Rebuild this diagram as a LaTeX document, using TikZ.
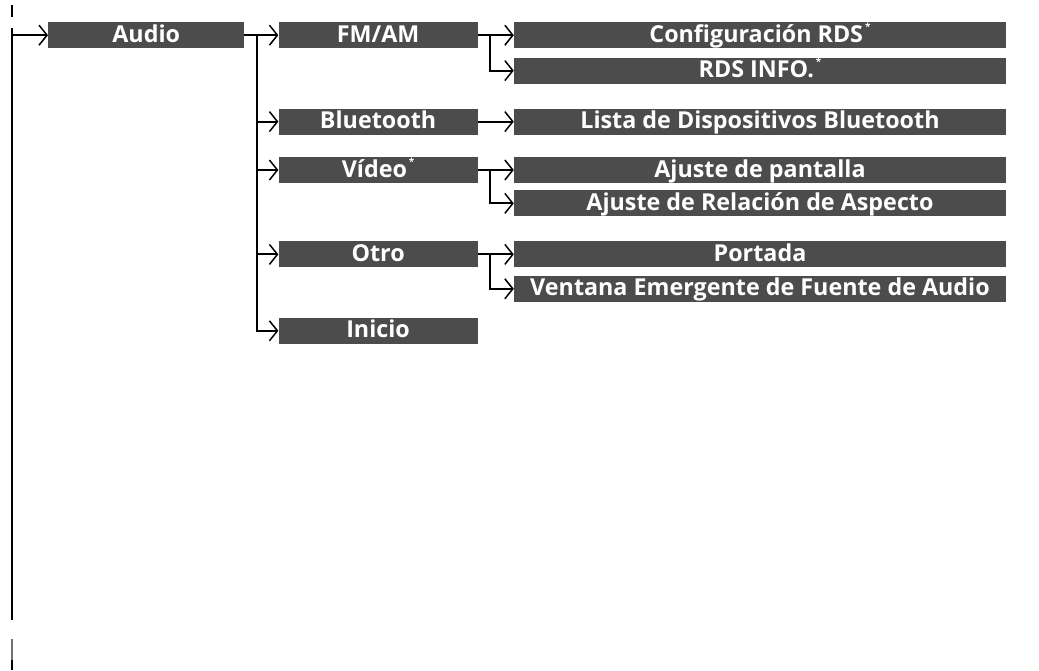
\documentclass[tikz,border=0pt]{standalone}
\usepackage{fontspec}
\setmainfont{Open Sans}
\usetikzlibrary{positioning, arrows.meta, calc}

\begin{document}
\begin{tikzpicture}[
  x=1pt, y=-1pt,
  font=\fontsize{23.3}{27}\selectfont\bfseries,
  itm/.style={fill=black!70, text=white, inner sep=0pt, minimum height=26pt,
              text height=17pt, text depth=3pt, anchor=north west},
  lvone/.style={itm, minimum width=196pt},
  lvtwo/.style={itm, minimum width=199pt},
  lvthree/.style={itm, minimum width=492pt},
  conn/.style={line width=2pt, draw=black},
  barr/.style={conn, -{Straight Barb[length=8pt,width=20pt,line width=1.5pt]}}
]
\newcommand{\smstar}{\kern2pt\raisebox{0.5em}{\fontsize{10}{10}\selectfont *}}
\useasboundingbox (0,0) rectangle (1039,670);
% menu boxes
\node[lvone] (audio) at (48,22) {Audio};
\node[lvtwo, right=34pt of audio] (fmam) {FM/AM};
\node[lvthree, right=36pt of fmam] (rdscfg) {Configuración RDS\smstar};
\node[lvthree, below=9pt of rdscfg] (rdsinfo) {RDS INFO.\smstar};
\node[lvtwo, below=60pt of fmam] (bt) {Bluetooth};
\node[lvthree, right=36pt of bt] (lista) {Lista de Dispositivos Bluetooth};
\node[lvtwo, below=22pt of bt] (video) {Vídeo\smstar};
\node[lvthree, right=36pt of video] (pant) {Ajuste de pantalla};
\node[lvthree, below=7pt of pant] (relac) {Ajuste de Relación de Aspecto};
\node[lvtwo, below=58pt of video] (otro) {Otro};
\node[lvthree, right=36pt of otro] (port) {Portada};
\node[lvthree, below=8pt of port] (vent) {Ventana Emergente de Fuente de Audio};
\node[lvtwo, below=50pt of otro] (inicio) {Inicio};
% left rail
\coordinate (rtop) at (12,28);
\coordinate (rbot) at (12,620);
\coordinate (tka) at (12,5);
\coordinate (tkb) at (12,17);
\coordinate (cuta) at (12,639);
\coordinate (cutb) at (12,660);
\coordinate (cutc) at (12,670);
\draw[conn] (rtop) -- (rbot);
\draw[conn] (tka) -- (tkb);
\draw[conn, draw=black!55] (cuta) -- (cutb);
\draw[conn] (cutb) -- (cutc);
\draw[barr] (audio.west -| rtop) -- (audio.west);
% second level
\coordinate (fork) at ($(audio.east)+(13,0)$);
\draw[barr] (audio.east) -- (fmam.west);
\draw[barr] (audio.east) -- (fork) |- (inicio.west);
\foreach \n in {bt, video, otro}{
  \draw[barr] (fork |- \n.west) -- (\n.west);}
% third level
\draw[barr] (bt.east) -- (lista.west);
\foreach \p/\a/\b in {fmam/rdscfg/rdsinfo, video/pant/relac, otro/port/vent}{
  \draw[barr] (\p.east) -- (\a.west);
  \draw[barr] (\p.east) -- ++(12,0) |- (\b.west);}
\end{tikzpicture}
\end{document}
